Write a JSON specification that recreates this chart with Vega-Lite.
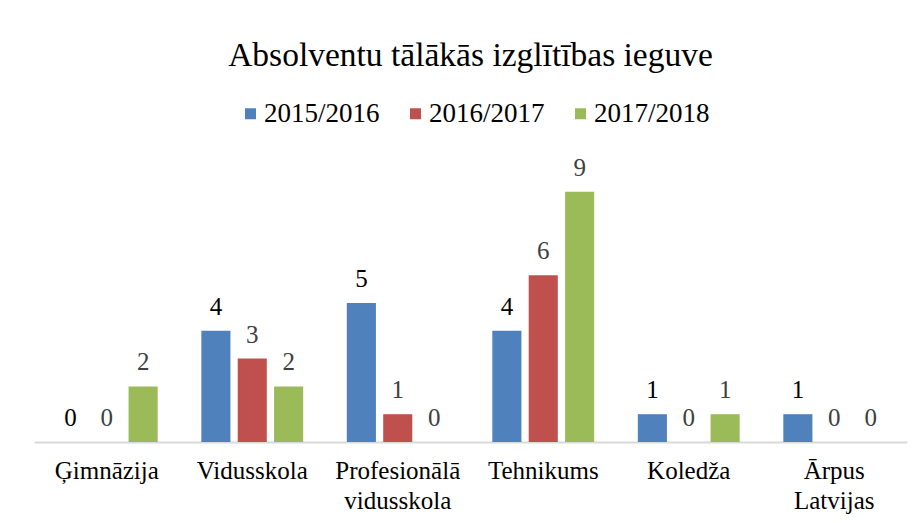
{
  "$schema": "https://vega.github.io/schema/vega-lite/v6.json",
  "width": 873,
  "height": 278,
  "autosize": {"type": "none"},
  "padding": {"left": 34, "top": 164, "right": 13, "bottom": 81},
  "background": "white",
  "title": {
    "text": "Absolventu tālākās izglītības ieguve",
    "font": "Liberation Serif",
    "fontSize": 33.5,
    "fontWeight": "normal",
    "color": "black",
    "anchor": "middle",
    "offset": 27
  },
  "data": {
    "values": [
      {"category": "Ģimnāzija", "series": "2015/2016", "value": 0},
      {"category": "Ģimnāzija", "series": "2016/2017", "value": 0},
      {"category": "Ģimnāzija", "series": "2017/2018", "value": 2},
      {"category": "Vidusskola", "series": "2015/2016", "value": 4},
      {"category": "Vidusskola", "series": "2016/2017", "value": 3},
      {"category": "Vidusskola", "series": "2017/2018", "value": 2},
      {"category": "Profesionālā vidusskola", "series": "2015/2016", "value": 5},
      {"category": "Profesionālā vidusskola", "series": "2016/2017", "value": 1},
      {"category": "Profesionālā vidusskola", "series": "2017/2018", "value": 0},
      {"category": "Tehnikums", "series": "2015/2016", "value": 4},
      {"category": "Tehnikums", "series": "2016/2017", "value": 6},
      {"category": "Tehnikums", "series": "2017/2018", "value": 9},
      {"category": "Koledža", "series": "2015/2016", "value": 1},
      {"category": "Koledža", "series": "2016/2017", "value": 0},
      {"category": "Koledža", "series": "2017/2018", "value": 1},
      {"category": "Ārpus Latvijas", "series": "2015/2016", "value": 1},
      {"category": "Ārpus Latvijas", "series": "2016/2017", "value": 0},
      {"category": "Ārpus Latvijas", "series": "2017/2018", "value": 0}
    ]
  },
  "encoding": {
    "x": {
      "field": "category",
      "type": "nominal",
      "sort": null,
      "scale": {"paddingInner": 0.3, "paddingOuter": 0.15},
      "axis": {
        "title": null,
        "labelAngle": 0,
        "labelExpr": "split(datum.label, ' ')",
        "labelFont": "Liberation Serif",
        "labelFontSize": 25,
        "labelColor": "black",
        "labelLineHeight": 30,
        "labelPadding": 16,
        "ticks": false,
        "domainColor": "#D9D9D9",
        "domainWidth": 2,
        "grid": false
      }
    },
    "xOffset": {
      "field": "series",
      "type": "nominal",
      "scale": {"paddingInner": 0.2, "paddingOuter": 0}
    },
    "y": {
      "field": "value",
      "type": "quantitative",
      "scale": {"domain": [0, 10], "nice": false},
      "axis": null
    }
  },
  "layer": [
    {
      "mark": {"type": "bar"},
      "encoding": {
        "color": {
          "field": "series",
          "type": "nominal",
          "scale": {
            "domain": ["2015/2016", "2016/2017", "2017/2018"],
            "range": ["#4F81BD", "#C0504D", "#9BBB59"]
          },
          "legend": {
            "title": null,
            "orient": "none",
            "direction": "horizontal",
            "legendX": 203,
            "legendY": -64,
            "symbolType": "square",
            "symbolSize": 121,
            "symbolStrokeWidth": 0,
            "labelFont": "Liberation Serif",
            "labelFontSize": 27,
            "labelColor": "black",
            "labelOffset": 0,
            "columnPadding": 22
          }
        }
      }
    },
    {
      "mark": {
        "type": "text",
        "baseline": "alphabetic",
        "dy": -16,
        "font": "Liberation Serif",
        "fontSize": 25
      },
      "encoding": {
        "text": {"field": "value", "type": "quantitative"},
        "color": {
          "condition": {"test": "datum.series == '2015/2016'", "value": "black"},
          "value": "#404040"
        }
      }
    }
  ],
  "config": {
    "view": {"stroke": null}
  }
}
